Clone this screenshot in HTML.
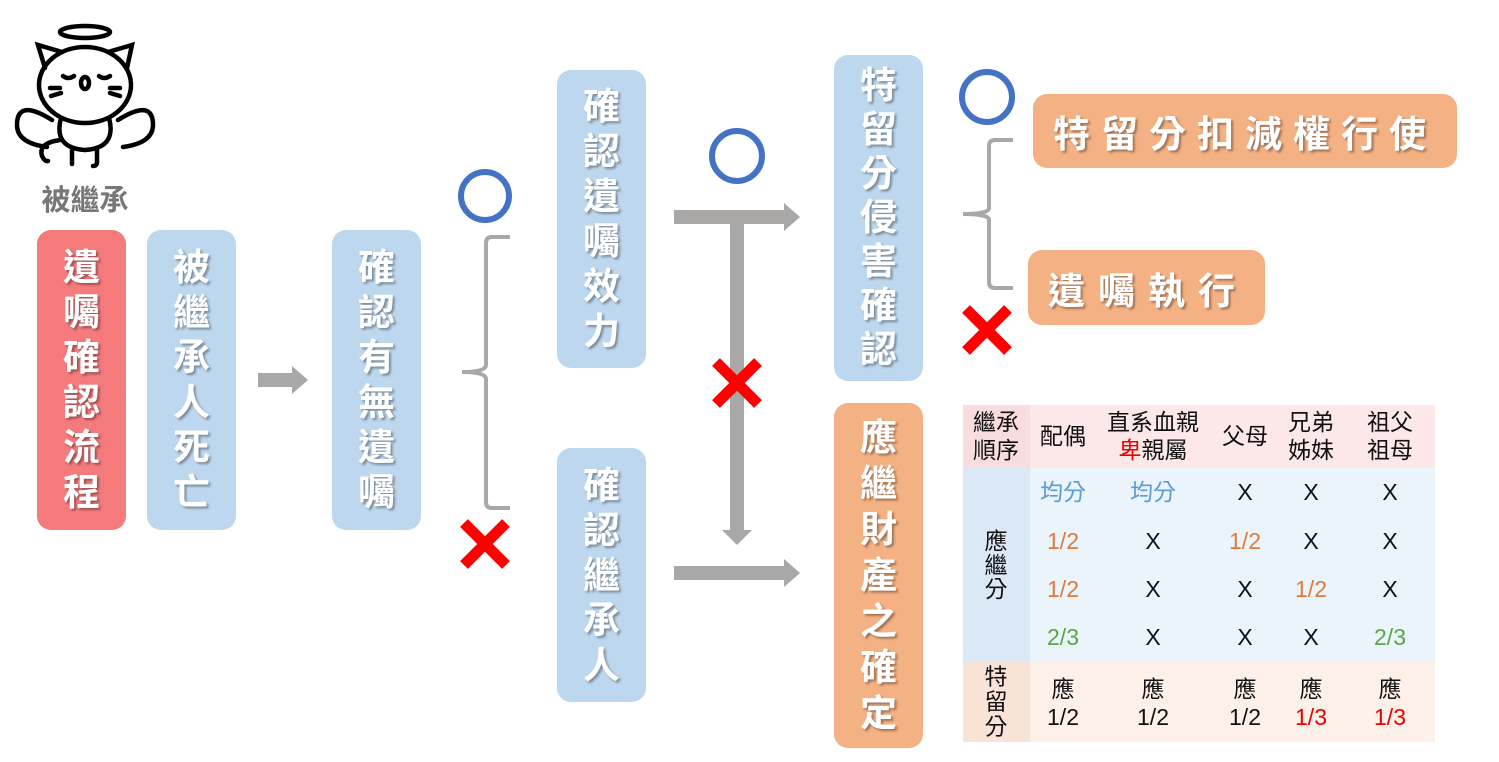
<!DOCTYPE html>
<html><head><meta charset="utf-8"><style>
body{margin:0;width:1499px;height:762px;background:#fff;position:relative;overflow:hidden;font-family:"Liberation Sans","Noto Sans CJK TC",sans-serif}
.b{position:absolute;border-radius:14px;display:flex;flex-direction:column;align-items:center;justify-content:center;color:#fff;font-weight:bold;font-size:37px;line-height:45px;text-shadow:2px 2px 2px rgba(0,0,0,.35)}
.bl{background:#bdd7ee}.rd{background:#f47a7c}.or{background:#f4b183}
.h{position:absolute;border-radius:14px;background:#f4b183;color:#fff;font-weight:bold;font-size:37px;letter-spacing:11px;white-space:nowrap;display:flex;align-items:center;text-shadow:2px 2px 2px rgba(0,0,0,.35)}
.t{position:absolute;font-size:23px;color:#111;text-align:center;line-height:28px;transform:translate(-50%,-50%);white-space:nowrap}
.c{position:absolute}
</style></head><body>
<svg class="c" style="left:0;top:0" width="1499" height="762">
<g fill="none" stroke="#000" stroke-width="4.5" stroke-linecap="round">
<ellipse cx="85" cy="32" rx="25" ry="6"/>
<path d="M45 68 L38 45 L62 52"/><path d="M108 52 L132 45 L127 68"/>
<ellipse cx="85" cy="85" rx="46" ry="38"/>
<path d="M63 76 q5 4 11 0"/><path d="M99 76 q5 4 11 0"/>
<ellipse cx="85" cy="83" rx="4" ry="6"/>
<path d="M50 88 h10"/><path d="M51 96 l10 -3"/><path d="M110 88 h10"/><path d="M110 93 l10 3"/>
<path d="M61 118 q-8 30 24 32 q32 -2 24 -32"/>
<path d="M72 150 v14"/><path d="M97 150 v12 q0 4 -4 4"/>
<path d="M52 120 q-35 -22 -35 5 q0 18 30 22"/>
<path d="M118 120 q35 -22 35 5 q0 18 -30 22"/>
<path d="M60 140 q-22 3 -18 16 q3 6 6 5"/>
</g>
<text x="85" y="210" text-anchor="middle" font-size="29" font-weight="bold" fill="#777" font-family="Liberation Sans, Noto Sans CJK TC, sans-serif">被繼承</text>
<g fill="#aaa7a7">
<rect x="258" y="373" width="36" height="14"/><polygon points="292,366 308,380 292,394"/>
<rect x="674" y="210" width="112" height="14"/><polygon points="784,203 800,217 784,231"/>
<rect x="730" y="222" width="14" height="310"/><polygon points="722,530 752,530 737,545"/>
<rect x="674" y="566" width="112" height="14"/><polygon points="784,559 800,573 784,587"/>
</g>
<g fill="none" stroke="#aaa7a7" stroke-width="4">
<path d="M510 237 h-18 q-6 0 -6 6 v122 q0 7 -24 7 q24 0 24 7 v123 q0 6 6 6 h18"/>
<path d="M1013 140 h-18 q-6 0 -6 6 v62 q0 6 -26 6 q26 0 26 6 v62 q0 6 6 6 h18"/>
</g>
<g fill="none" stroke="#4472c4" stroke-width="6">
<circle cx="485" cy="196" r="24"/><circle cx="737" cy="156" r="25"/><circle cx="987" cy="97" r="25"/>
</g>
<g stroke="#f00" stroke-width="11">
<path d="M464 523 L506 565 M506 523 L464 565"/>
<path d="M716 362 L758 404 M758 362 L716 404"/>
<path d="M966 309 L1008 351 M1008 309 L966 351"/>
</g>
<rect x="963" y="405" width="67" height="63" fill="#f9dcdd"/><rect x="1030" y="405" width="405" height="63" fill="#fce8e9"/>
<rect x="963" y="468" width="67" height="194" fill="#dbe8f5"/><rect x="1030" y="468" width="405" height="194" fill="#ebf3fb"/>
<rect x="963" y="662" width="67" height="80" fill="#f9e2d6"/><rect x="1030" y="662" width="405" height="80" fill="#fdf0e9"/>
</svg>
<div class="b rd" style="left:37px;top:230px;width:89px;height:300px">遺<br>囑<br>確<br>認<br>流<br>程</div>
<div class="b bl" style="left:147px;top:230px;width:89px;height:300px">被<br>繼<br>承<br>人<br>死<br>亡</div>
<div class="b bl" style="left:332px;top:230px;width:89px;height:300px">確<br>認<br>有<br>無<br>遺<br>囑</div>
<div class="b bl" style="left:557px;top:70px;width:89px;height:298px">確<br>認<br>遺<br>囑<br>效<br>力</div>
<div class="b bl" style="left:557px;top:448px;width:89px;height:254px">確<br>認<br>繼<br>承<br>人</div>
<div class="b bl" style="left:834px;top:55px;width:89px;height:326px;line-height:44px">特<br>留<br>分<br>侵<br>害<br>確<br>認</div>
<div class="b or" style="left:834px;top:403px;width:89px;height:345px;line-height:46px">應<br>繼<br>財<br>產<br>之<br>確<br>定</div>
<div class="h" style="left:1033px;top:94px;width:424px;height:74px;padding-left:20px;box-sizing:border-box">特留分扣減權行使</div>
<div class="h" style="left:1028px;top:250px;width:237px;height:75px;padding-left:20px;box-sizing:border-box;letter-spacing:13px">遺囑執行</div>
<div class="t" style="left:996px;top:436px">繼承<br>順序</div>
<div class="t" style="left:1063px;top:436px">配偶</div>
<div class="t" style="left:1153px;top:436px">直系血親<br><span style="color:#e00">卑</span>親屬</div>
<div class="t" style="left:1245px;top:436px">父母</div>
<div class="t" style="left:1311px;top:436px">兄弟<br>姊妹</div>
<div class="t" style="left:1390px;top:436px">祖父<br>祖母</div>
<div class="t" style="left:996px;top:565px;line-height:24px">應<br>繼<br>分</div>
<div class="t" style="left:996px;top:702px;line-height:25px">特<br>留<br>分</div>
<div class="t" style="left:1063px;top:492px;color:#5b9bd5">均分</div>
<div class="t" style="left:1153px;top:492px;color:#5b9bd5">均分</div>
<div class="t" style="left:1245px;top:492px">X</div><div class="t" style="left:1311px;top:492px">X</div><div class="t" style="left:1390px;top:492px">X</div>
<div class="t" style="left:1063px;top:541px;color:#e07b39">1/2</div><div class="t" style="left:1153px;top:541px">X</div><div class="t" style="left:1245px;top:541px;color:#e07b39">1/2</div><div class="t" style="left:1311px;top:541px">X</div><div class="t" style="left:1390px;top:541px">X</div>
<div class="t" style="left:1063px;top:589px;color:#e07b39">1/2</div><div class="t" style="left:1153px;top:589px">X</div><div class="t" style="left:1245px;top:589px">X</div><div class="t" style="left:1311px;top:589px;color:#e07b39">1/2</div><div class="t" style="left:1390px;top:589px">X</div>
<div class="t" style="left:1063px;top:637px;color:#5aa646">2/3</div><div class="t" style="left:1153px;top:637px">X</div><div class="t" style="left:1245px;top:637px">X</div><div class="t" style="left:1311px;top:637px">X</div><div class="t" style="left:1390px;top:637px;color:#5aa646">2/3</div>
<div class="t" style="left:1063px;top:703px">應<br>1/2</div>
<div class="t" style="left:1153px;top:703px">應<br>1/2</div>
<div class="t" style="left:1245px;top:703px">應<br>1/2</div>
<div class="t" style="left:1311px;top:703px">應<br><span style="color:#e00">1/3</span></div>
<div class="t" style="left:1390px;top:703px">應<br><span style="color:#e00">1/3</span></div>
</body></html>
